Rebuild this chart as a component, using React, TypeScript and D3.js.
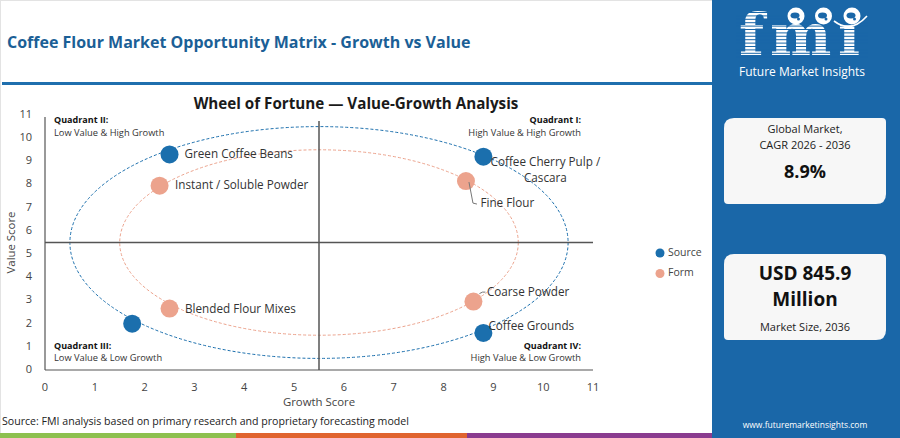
import React from "react";
import * as d3 from "d3";

const xTicks = [0, 1, 2, 3, 4, 5, 6, 7, 8, 9, 10, 11];
const yTicks = [0, 1, 2, 3, 4, 5, 6, 7, 8, 9, 10, 11];

const seriesNames = ["Source", "Form"];
const seriesColors = ["#1b6fad", "#eca38d"];
const ringRadius = [5, 4];

const sourceNames = ["Green Coffee Beans", "Coffee Cherry Pulp / Cascara", "", "Coffee Grounds"];
const sourceGrowth = [2.5, 8.8, 1.75, 8.8];
const sourceValue = [9.3, 9.2, 2.0, 1.6];

const formNames = ["Instant / Soluble Powder", "Fine Flour", "Blended Flour Mixes", "Coarse Powder"];
const formGrowth = [2.3, 8.45, 2.5, 8.6];
const formValue = [7.95, 8.15, 2.65, 2.95];

const quadrantTitles = ["Quadrant I:", "Quadrant II:", "Quadrant III:", "Quadrant IV:"];
const quadrantSubs = [
  "High Value & High Growth",
  "Low Value & High Growth",
  "Low Value & Low Growth",
  "High Value & Low Growth",
];

// label placement (pixel offsets from the point)
const labelLayout: Record<string, { dx: number; dy: number; anchor?: string; lines?: string[]; leader?: number[][] }> = {
  "Green Coffee Beans": { dx: 15, dy: 0 },
  "Instant / Soluble Powder": { dx: 15.5, dy: 0 },
  "Coffee Cherry Pulp / Cascara": { dx: 62, dy: 6, anchor: "middle", lines: ["Coffee Cherry Pulp /", "Cascara"] },
  "Fine Flour": { dx: 14.5, dy: 23, leader: [[3, 1], [7, 22], [11, 23]] },
  "Blended Flour Mixes": { dx: 15.5, dy: 1 },
  "Coarse Powder": { dx: 13.5, dy: -9, leader: [[6, -8], [9, -9.5], [12, -9.5]] },
  "Coffee Grounds": { dx: 5, dy: -6.5 },
};

const FONT = "'Open Sans', 'DejaVu Sans', sans-serif";
const PANEL = "#1a67a8";

export default function App() {
  const W = 900;
  const H = 438;
  const x = d3.scaleLinear().domain([0, 11]).range([45, 593]);
  const y = d3.scaleLinear().domain([0, 11]).range([370, 115]);

  const series = [
    { names: sourceNames, gx: sourceGrowth, vy: sourceValue },
    { names: formNames, gx: formGrowth, vy: formValue },
  ];

  const cx = x(5.5);
  const cy = y(5.5);
  const stripes = d3.range(12, 57, 3.4);
  const globes = [796, 823.5, 852];

  return (
    <svg
      width={W}
      height={H}
      viewBox={`0 0 ${W} ${H}`}
      style={{ position: "absolute", left: 0, top: 0, fontFamily: FONT }}
    >
      <rect x={0} y={0} width={W} height={H} fill="#ffffff" />
      <rect x={0.5} y={0.5} width={712} height={H - 1} fill="none" stroke="#e3e3e3" />

      {/* header */}
      <text x={7} y={44} dominantBaseline="middle" fontSize={16} fontWeight={700} fill="#1b5f96">
        Coffee Flour Market Opportunity Matrix - Growth vs Value
      </text>
      <rect x={2} y={82} width={711} height={3} fill="#1f6fae" />

      {/* chart title */}
      <text x={356} y={105} textAnchor="middle" dominantBaseline="middle" fontSize={15.2} fontWeight={700} fill="#1a1a1a">
        Wheel of Fortune — Value-Growth Analysis
      </text>

      {/* rings */}
      {seriesNames.map((s, i) => (
        <ellipse
          key={s}
          cx={cx}
          cy={cy}
          rx={x(ringRadius[i]) - x(0)}
          ry={y(0) - y(ringRadius[i])}
          fill="none"
          stroke={seriesColors[i]}
          strokeWidth={1}
          strokeDasharray="3,2"
        />
      ))}

      {/* axes */}
      <line x1={x(0)} x2={x(0)} y1={117} y2={y(0)} stroke="#555" strokeWidth={1.2} />
      <line x1={x(0)} x2={x(11)} y1={y(0)} y2={y(0)} stroke="#555" strokeWidth={1.2} />
      {/* crosshair */}
      <line x1={cx} x2={cx} y1={121} y2={y(0)} stroke="#555" strokeWidth={1.5} />
      <line x1={x(0)} x2={x(11)} y1={cy} y2={cy} stroke="#555" strokeWidth={1.5} />

      {xTicks.map((t) => (
        <text key={"xt" + t} x={x(t)} y={388} textAnchor="middle" dominantBaseline="middle" fontSize={11} fill="#444">
          {t}
        </text>
      ))}
      {yTicks.map((t) => (
        <text key={"yt" + t} x={32} y={y(t)} textAnchor="end" dominantBaseline="middle" fontSize={11} fill="#444">
          {t}
        </text>
      ))}
      <text x={cx} y={403} textAnchor="middle" dominantBaseline="middle" fontSize={11.4} fill="#444">
        Growth Score
      </text>
      <text
        transform={`translate(12,${(y(0) + y(11)) / 2}) rotate(-90)`}
        textAnchor="middle"
        dominantBaseline="middle"
        fontSize={11.4}
        fill="#444"
      >
        Value Score
      </text>

      {/* quadrant labels */}
      <text x={581} y={121} textAnchor="end" dominantBaseline="middle" fontSize={9} fontWeight={700} fill="#111">{quadrantTitles[0]}</text>
      <text x={581} y={134} textAnchor="end" dominantBaseline="middle" fontSize={9.3} fill="#333">{quadrantSubs[0]}</text>
      <text x={54} y={121} dominantBaseline="middle" fontSize={9} fontWeight={700} fill="#111">{quadrantTitles[1]}</text>
      <text x={54} y={134} dominantBaseline="middle" fontSize={9.3} fill="#333">{quadrantSubs[1]}</text>
      <text x={54} y={346.5} dominantBaseline="middle" fontSize={9} fontWeight={700} fill="#111">{quadrantTitles[2]}</text>
      <text x={54} y={359} dominantBaseline="middle" fontSize={9.3} fill="#333">{quadrantSubs[2]}</text>
      <text x={581} y={346.5} textAnchor="end" dominantBaseline="middle" fontSize={9} fontWeight={700} fill="#111">{quadrantTitles[3]}</text>
      <text x={581} y={359} textAnchor="end" dominantBaseline="middle" fontSize={9.3} fill="#333">{quadrantSubs[3]}</text>

      {/* points */}
      {series.map((s, si) =>
        s.names.map((n, i) => (
          <circle key={"p" + si + i} cx={x(s.gx[i])} cy={y(s.vy[i])} r={9} fill={seriesColors[si]} />
        ))
      )}
      {/* labels */}
      {series.map((s, si) =>
        s.names.map((n, i) => {
          const L = labelLayout[n];
          if (!n || !L) return null;
          const px = x(s.gx[i]);
          const py = y(s.vy[i]);
          return (
            <g key={"l" + si + i}>
              {L.leader && (
                <polyline
                  points={L.leader.map((p) => `${px + p[0]},${py + p[1]}`).join(" ")}
                  fill="none"
                  stroke="#777"
                  strokeWidth={1}
                />
              )}
              {(L.lines || [n]).map((ln, li) => (
                <text
                  key={li}
                  x={px + L.dx}
                  y={py + L.dy + li * 16.5}
                  textAnchor={L.anchor || "start"}
                  dominantBaseline="middle"
                  fontSize={11.7}
                  fill="#333"
                >
                  {ln}
                </text>
              ))}
            </g>
          );
        })
      )}

      {/* legend */}
      {seriesNames.map((s, i) => (
        <g key={"lg" + s} transform={`translate(660,${253 + i * 20.5})`}>
          <circle cx={0} cy={0} r={4.5} fill={seriesColors[i]} />
          <text x={8} y={0} dominantBaseline="middle" fontSize={10.5} fill="#444">{s}</text>
        </g>
      ))}

      {/* source */}
      <text x={2} y={422} dominantBaseline="middle" fontSize={10.6} fill="#222">
        Source: FMI analysis based on primary research and proprietary forecasting model
      </text>
      <rect x={0} y={433} width={236} height={5} fill="#8dc04f" />
      <rect x={236} y={433} width={231} height={5} fill="#e0642f" />
      <rect x={467} y={433} width={246} height={5} fill="#8a3b8f" />

      {/* right panel */}
      <rect x={712} y={0} width={188} height={H} fill={PANEL} />
      <g fontFamily="'DejaVu Serif', serif" fontWeight={700} fontSize={58} fill="#ffffff">
        <text x={739} y={55}>f</text>
        <text x={770} y={55}>m</text>
        <text x={838} y={55}>ı</text>
      </g>
      {stripes.map((s) => (
        <rect key={"st" + s} x={736} y={s} width={132} height={1} fill={PANEL} />
      ))}
      {globes.map((g) => (
        <g key={"gl" + g}>
          <circle cx={g} cy={16} r={8.5} fill="#ffffff" />
          <ellipse cx={g - 1} cy={15.5} rx={4.5} ry={3} fill={PANEL} />
          <circle cx={g + 2.5} cy={19} r={1.5} fill={PANEL} />
        </g>
      ))}
      <path d="M834,21 Q851,34 867,16" fill="none" stroke="#ffffff" strokeWidth={1.6} />
      <text x={802} y={73} textAnchor="middle" dominantBaseline="middle" fontSize={12} fill="#ffffff">
        Future Market Insights
      </text>

      <path
        d="M734,118 H882 Q886,118 886,122 V194 Q886,204 876,204 H728 Q724,204 724,200 V128 Q724,118 734,118 Z"
        fill="#f7f7f7"
      />
      <text x={805} y={130} textAnchor="middle" dominantBaseline="middle" fontSize={11} fill="#222">Global Market,</text>
      <text x={805} y={146} textAnchor="middle" dominantBaseline="middle" fontSize={11} fill="#222">CAGR 2026 - 2036</text>
      <text x={805} y={173} textAnchor="middle" dominantBaseline="middle" fontSize={18} fontWeight={700} fill="#111">8.9%</text>

      <path
        d="M734,254 H882 Q886,254 886,258 V330 Q886,340 876,340 H728 Q724,340 724,336 V264 Q724,254 734,254 Z"
        fill="#f7f7f7"
      />
      <text x={805} y={275} textAnchor="middle" dominantBaseline="middle" fontSize={19} fontWeight={700} fill="#111">USD 845.9</text>
      <text x={805} y={301} textAnchor="middle" dominantBaseline="middle" fontSize={19} fontWeight={700} fill="#111">Million</text>
      <text x={805} y={328} textAnchor="middle" dominantBaseline="middle" fontSize={11} fill="#222">Market Size, 2036</text>

      <text x={805} y={426} textAnchor="middle" dominantBaseline="middle" fontSize={8.5} fill="#ffffff">
        www.futuremarketinsights.com
      </text>
    </svg>
  );
}
